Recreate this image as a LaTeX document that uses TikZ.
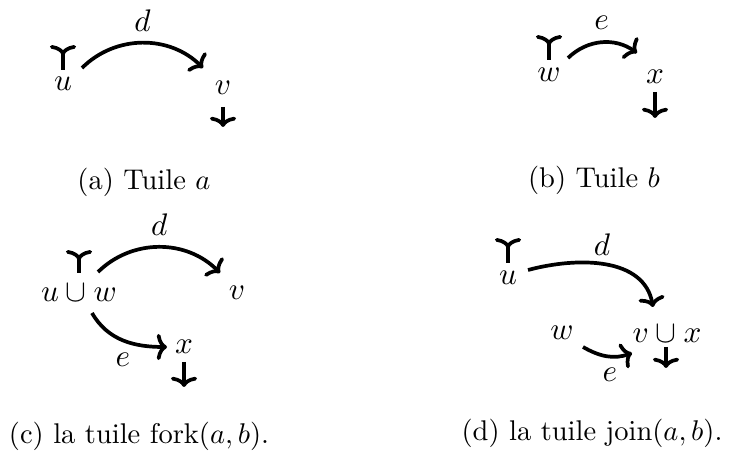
\documentclass[tikz,border=0pt]{standalone}
\usetikzlibrary{arrows.meta,calc}
\begin{document}
\begin{tikzpicture}[x=0.3509pt,y=0.3509pt,
  lbl/.style={inner sep=0pt,font=\fontsize{10.95}{13}\selectfont},
  captxt/.style={inner sep=0pt,font=\fontsize{10}{12}\selectfont},
  conn/.style={line width=1.3pt,-{To[length=3.6pt,width=9.2pt]}},
  tailconn/.style={line width=1.3pt,{To[reversed,length=3.6pt,width=9.2pt]}-}]
\useasboundingbox (0,0) rectangle (734,-460);
% ---------- (a)
\node[lbl] (au) at (63,-84) {$u$};
\node[lbl] (av) at (223,-88) {$v$};
\coordinate (aut) at (63,-45);
\coordinate (avb) at (223,-127);
\draw[tailconn] (aut) -- ($(au)+(0,14)$);
\draw[conn] ($(au)+(19,16)$) to[bend left=45] node[lbl,above=3.3pt] (ad) {$d$} ($(av)+(-20,20)$);
\draw[conn] ($(av)+(0,-19)$) -- (avb);
\node[captxt] (capa) at (144,-182) {(a) Tuile $a$};
% ---------- (b)
\node[lbl] (bw) at (549,-75) {$w$};
\node[lbl] (bx) at (655,-77) {$x$};
\coordinate (bwt) at (549,-35);
\coordinate (bxb) at (655,-118);
\draw[tailconn] (bwt) -- ($(bw)+(0,15)$);
\draw[conn] ($(bw)+(19,17)$) to[bend left=40] node[lbl,above=3.8pt] (be) {$e$} ($(bx)+(-18,24)$);
\draw[conn] ($(bx)+(0,-15)$) -- (bxb);
\node[captxt] (capb) at (594,-180) {(b) Tuile $b$};
% ---------- (c)
\node[lbl] (cuw) at (79,-293) {$u\cup w$};
\node[lbl] (cv) at (237,-293) {$v$};
\node[lbl] (cx) at (184,-347) {$x$};
\coordinate (cuwt) at (79,-250);
\coordinate (cxb) at (184,-387);
\draw[tailconn] (cuwt) -- ($(cuw)+(0,20)$);
\draw[conn] ($(cuw)+(19,21)$) to[bend left=45] node[lbl,above=3.3pt] (cd) {$d$} ($(cv)+(-17,20)$);
\draw[conn] ($(cuw)+(13,-20)$) to[out=-60,in=180] ($(cx)+(-17,0)$);
\node[lbl] (ce) at (123,-360) {$e$};
\draw[conn] ($(cx)+(0,-15)$) -- (cxb);
\node[captxt] (capc) at (139,-436) {(c) la tuile $\mathrm{fork}(a,b)$.};
% ---------- (d)
\node[lbl] (du) at (508,-278) {$u$};
\node[lbl] (dvx) at (667,-334) {$v\cup x$};
\node[lbl] (dw) at (562,-333) {$w$};
\coordinate (dut) at (508,-238);
\coordinate (dvxb) at (666,-368);
\draw[tailconn] (dut) -- ($(du)+(0,15)$);
\draw[conn] ($(du)+(20,8)$) to[out=15,in=100] ($(dvx)+(-14,27)$);
\node[lbl] (dd) at (602,-245) {$d$};
\draw[conn] ($(dw)+(21,-14)$) to[out=-30,in=200] ($(dvx)+(-35,-19)$);
\node[lbl] (de) at (610,-375) {$e$};
\draw[conn] ($(dvx)+(-1,-13)$) -- (dvxb);
\node[captxt] (capd) at (592,-433) {(d) la tuile $\mathrm{join}(a,b)$.};
\end{tikzpicture}
\end{document}
